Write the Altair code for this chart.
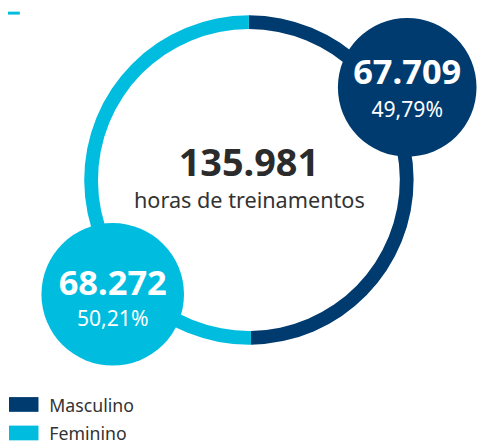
import altair as alt
import pandas as pd

# ---- data ----
categories = ["Masculino", "Feminino"]
hours = [67709, 68272]
colors = ["#003b6f", "#00bde0"]
center_label = "horas de treinamentos"

total = sum(hours)


def fmt_int(v):
    return f"{v:,}".replace(",", ".")


def fmt_pct(p):
    return f"{p:.2f}".replace(".", ",") + "%"


df = pd.DataFrame({
    "cat": categories,
    "hours": hours,
    "order": list(range(len(categories))),
    "label": [fmt_int(v) for v in hours],
    "pct": [fmt_pct(v / total * 100) for v in hours],
})
center_df = pd.DataFrame({"total": [fmt_int(total)], "sub": [center_label]})

# ---- layout ----
W, H = 478, 436
CX, CY = 245, 171.2
R_OUT, R_IN = 167.5, 153.5
FONT = "Noto Sans"
TEXT_DARK = "#2b2b2b"

# bubble centre x, centre y, radius, value baseline, pct baseline
bubble_layout = {
    "Masculino": (406, 77, 70.5, 74, 107),
    "Feminino": (106.5, 287.5, 72.5, 288, 320),
}

color_scale = alt.Scale(domain=categories, range=colors)
base = alt.Chart(df)

ring = base.mark_arc(outerRadius=R_OUT, innerRadius=R_IN).encode(
    theta=alt.Theta("hours:Q", stack=True),
    color=alt.Color("cat:N", scale=color_scale, legend=None),
    order=alt.Order("order:Q"),
    x=alt.value(CX),
    y=alt.value(CY),
)

layers = [ring]

for cat in categories:
    bx, by, br, yv, yp = bubble_layout[cat]
    sub = base.transform_filter(alt.datum.cat == cat)
    # Vega circle symbol: diameter = sqrt(size)
    layers.append(
        sub.mark_circle(size=(2 * br) ** 2, opacity=1).encode(
            x=alt.value(bx), y=alt.value(by),
            color=alt.Color("cat:N", scale=color_scale, legend=None),
        )
    )
    layers.append(
        sub.mark_text(font=FONT, fontSize=35, fontWeight="bold", color="white",
                      align="center", baseline="alphabetic").encode(
            x=alt.value(bx), y=alt.value(yv), text="label:N",
        )
    )
    layers.append(
        sub.mark_text(font=FONT, fontSize=21.5, color="white",
                      align="center", baseline="alphabetic").encode(
            x=alt.value(bx), y=alt.value(yp), text="pct:N",
        )
    )

cbase = alt.Chart(center_df)
layers.append(
    cbase.mark_text(font=FONT, fontSize=38.5, fontWeight="bold", color=TEXT_DARK,
                    align="center", baseline="alphabetic").encode(
        x=alt.value(CX), y=alt.value(167.5), text="total:N",
    )
)
layers.append(
    cbase.mark_text(font=FONT, fontSize=22, color="#333333",
                    align="center", baseline="alphabetic").encode(
        x=alt.value(CX + 0.5), y=alt.value(199.3), text="sub:N",
    )
)

# top-left accent line
layers.append(
    cbase.mark_rect(color=colors[1]).encode(
        x=alt.value(0), x2=alt.value(12), y=alt.value(0), y2=alt.value(3),
    )
)

# manual legend
leg_y = alt.Y("cat:N", scale=alt.Scale(type="point", domain=categories,
                                       range=[399.5, 428.5], padding=0), axis=None)
layers.append(
    base.mark_point(shape="M-1,-0.5H1V0.5H-1Z", filled=True, size=900, opacity=1).encode(
        x=alt.value(16), y=leg_y,
        color=alt.Color("cat:N", scale=color_scale, legend=None),
    )
)
layers.append(
    base.mark_text(font=FONT, fontSize=18, color="#333333", align="left",
                   baseline="alphabetic", dy=7.5).encode(
        x=alt.value(42), y=leg_y, text="cat:N",
    )
)

chart = alt.layer(*layers).properties(
    width=W, height=H, padding=0, autosize=alt.AutoSizeParams(type="none"),
    background="white",
).configure_view(stroke=None)

chart.save("out.html", embed_options={"renderer": "svg", "actions": False})
